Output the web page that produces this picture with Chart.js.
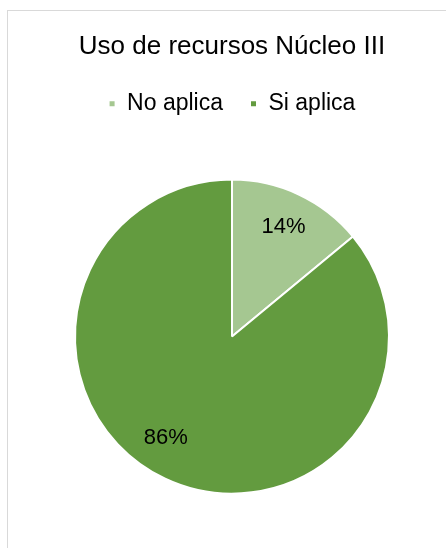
<!DOCTYPE html>
<html>
<head>
<meta charset="utf-8">
<script src="https://cdn.jsdelivr.net/npm/chart.js@4/dist/chart.umd.min.js"></script>
<style>
html,body{margin:0;padding:0;background:#fff;}
body{width:446px;height:548px;overflow:hidden;position:relative;}
.frame{position:absolute;left:7px;top:10px;width:460px;height:560px;border-top:1px solid #d9d9d9;border-left:1px solid #d9d9d9;}
.box{position:absolute;left:8px;top:11px;width:438px;height:537px;}
</style>
</head>
<body>
<div class="frame"></div>
<div class="box"><canvas id="pie"></canvas></div>
<script>
const categories=["No aplica","Si aplica"];
const values=[14,86];
const sliceColors=["#a5c791","#639b3f"];

const FONT="'Liberation Sans', Arial, sans-serif";

// percentage labels placed inside each slice
const pctLabels={
id:"pctLabels",
afterDatasetsDraw(chart,args,opts){
const ctx=chart.ctx;
const meta=chart.getDatasetMeta(0);
const data=chart.data.datasets[0].data;
const total=data.reduce((a,b)=>a+b,0);
ctx.save();
ctx.font=opts.size+"px "+FONT;
ctx.fillStyle="#000";
ctx.textAlign="center";
ctx.textBaseline="middle";
meta.data.forEach((arc,i)=>{
const p=arc.getProps(["x","y","startAngle","endAngle","outerRadius"],true);
const mid=(p.startAngle+p.endAngle)/2+(opts.shift[i]||0)*Math.PI/180;
const r=p.outerRadius*opts.dist;
ctx.fillText(Math.round(data[i]/total*100)+"%",p.x+Math.cos(mid)*r,p.y+Math.sin(mid)*r);
});
ctx.restore();
}
};

new Chart(document.getElementById("pie"),{
type:"pie",
data:{
labels:categories,
datasets:[{
data:values,
backgroundColor:sliceColors,
borderColor:"#ffffff",
borderWidth:2,
radius:157
}]
},
options:{
responsive:true,
maintainAspectRatio:false,
animation:false,
layout:{padding:{left:10,right:0,top:0,bottom:0}},
plugins:{
title:{
display:true,
text:"Uso de recursos Núcleo III",
color:"#000",
font:{family:FONT,size:26,weight:"normal"},
padding:{top:20,bottom:3}
},
legend:{
display:true,
position:"top",
labels:{
color:"#000",
font:{family:FONT,size:23},
boxWidth:7,
boxHeight:7,
padding:27
}
},
tooltip:{enabled:false},
pctLabels:{size:22,dist:0.77,shift:[0,8]}
}
},
plugins:[pctLabels]
});
</script>
</body>
</html>
